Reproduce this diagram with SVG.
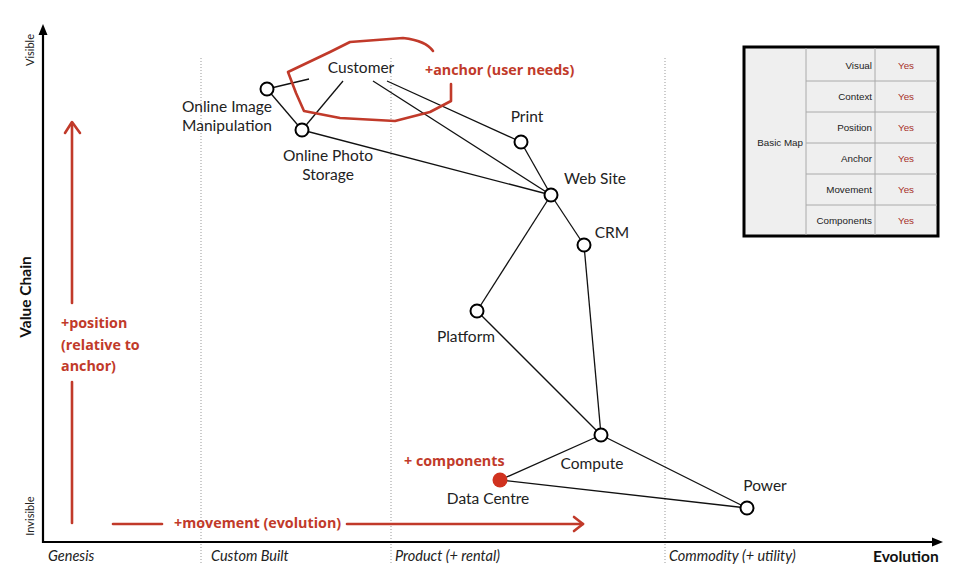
<svg xmlns="http://www.w3.org/2000/svg" width="968" height="578" viewBox="0 0 968 578">
<defs>
<style>
.bg{fill:#ffffff}
.axis{stroke:#000;stroke-width:2.2;fill:none}
.dot{stroke:#999;stroke-width:1;stroke-dasharray:1 2;fill:none}
.edge{stroke:#111;stroke-width:1.3;fill:none}
.node{fill:#fff;stroke:#000;stroke-width:2}
.lbl{font-family:Lato,"Noto Sans",sans-serif;font-size:15.5px;fill:#222;text-anchor:middle}
.ev{font-family:Lato,"Noto Sans",sans-serif;font-style:italic;font-size:14.5px;fill:#222}
.ax{font-family:Lato,"Noto Sans",sans-serif;font-size:11px;fill:#222;text-anchor:middle}
.axb{font-family:Lato,"Noto Sans",sans-serif;font-weight:bold;font-size:15.5px;fill:#111}
.red{font-family:"Open Sans",Lato,sans-serif;font-weight:bold;font-size:14.3px;fill:#c13a2a}
.rl{stroke:#c13a2a;stroke-width:2.6;fill:none;stroke-linecap:round;stroke-linejoin:round}
.tb{fill:#efefef;stroke:#000;stroke-width:3}
.tg{stroke:#aaa;stroke-width:1;fill:none}
.tt{font-family:"Liberation Sans",Arial,sans-serif;font-size:9.8px;fill:#222;text-anchor:end}
.ty{font-family:"Liberation Sans",Arial,sans-serif;font-size:9.8px;fill:#a8322a;text-anchor:middle}
</style>
</defs>
<rect class="bg" x="0" y="0" width="968" height="578"/>

<g id="grid">
<line class="dot" x1="201" y1="58" x2="201" y2="565"/>
<line class="dot" x1="391" y1="58" x2="391" y2="565"/>
<line class="dot" x1="665" y1="58" x2="665" y2="565"/>
</g>

<g id="axes">
<line class="axis" x1="43" y1="543" x2="43" y2="30"/>
<path d="M43,24 L38.5,35 L47.5,35 z" fill="#000"/>
<line class="axis" x1="42" y1="542" x2="935" y2="542"/>
<path d="M943,542 L932,537.5 L932,546.5 z" fill="#000"/>
<text class="ax" transform="translate(34,50) rotate(-90)">Visible</text>
<text class="ax" transform="translate(34,516) rotate(-90)">Invisible</text>
<text class="axb" text-anchor="middle" transform="translate(31,297) rotate(-90)">Value Chain</text>
<text class="ev" x="48" y="561">Genesis</text>
<text class="ev" x="211" y="561">Custom Built</text>
<text class="ev" x="395" y="561">Product (+ rental)</text>
<text class="ev" x="669" y="561">Commodity (+ utility)</text>
<text class="axb" x="873" y="562">Evolution</text>
</g>

<g id="connectors">
<line class="edge" x1="267" y1="89" x2="309" y2="79"/>
<line class="edge" x1="302" y1="130" x2="343" y2="81"/>
<line class="edge" x1="373" y1="81" x2="551" y2="195"/>
<line class="edge" x1="387" y1="81" x2="521" y2="142"/>
<line class="edge" x1="267" y1="89" x2="302" y2="130"/>
<line class="edge" x1="302" y1="130" x2="551" y2="195"/>
<line class="edge" x1="521" y1="142" x2="551" y2="195"/>
<line class="edge" x1="551" y1="195" x2="584" y2="245"/>
<line class="edge" x1="551" y1="195" x2="477" y2="311"/>
<line class="edge" x1="584" y1="245" x2="601" y2="435"/>
<line class="edge" x1="477" y1="311" x2="601" y2="435"/>
<line class="edge" x1="601" y1="435" x2="500" y2="480"/>
<line class="edge" x1="601" y1="435" x2="747" y2="508"/>
<line class="edge" x1="500" y1="480" x2="747" y2="508"/>
</g>

<g id="customer"><text class="lbl" x="361" y="73">Customer</text></g>
<g id="online-image-manipulation"><circle class="node" cx="267" cy="89" r="6.5"/><text class="lbl" x="227" y="112">Online Image</text><text class="lbl" x="227" y="131">Manipulation</text></g>
<g id="online-photo-storage"><circle class="node" cx="302" cy="130" r="6.5"/><text class="lbl" x="328" y="161">Online Photo</text><text class="lbl" x="328" y="180">Storage</text></g>
<g id="print"><circle class="node" cx="521" cy="142" r="6.5"/><text class="lbl" x="527" y="122">Print</text></g>
<g id="web-site"><circle class="node" cx="551" cy="195" r="6.5"/><text class="lbl" x="595" y="184">Web Site</text></g>
<g id="crm"><circle class="node" cx="584" cy="245" r="6.5"/><text class="lbl" x="612" y="238">CRM</text></g>
<g id="platform"><circle class="node" cx="477" cy="311" r="6.5"/><text class="lbl" x="466" y="342">Platform</text></g>
<g id="compute"><circle class="node" cx="601" cy="435" r="6.5"/><text class="lbl" x="592" y="469">Compute</text></g>
<g id="data-centre"><circle cx="500" cy="480" r="7.5" fill="#d0321f"/><text class="lbl" x="488" y="504">Data Centre</text></g>
<g id="power"><circle class="node" cx="747" cy="508" r="6.5"/><text class="lbl" x="765" y="491">Power</text></g>

<g id="annotations">
<path class="rl" d="M433,51 C428,44 420,40 403,38 L350,42 L330,52 L288,72 L296,93 L304,111 L340,118 L395,121 L430,112 L451,101 L451,84"/>
<text class="red" x="425" y="75">+anchor (user needs)</text>
<line class="rl" x1="72" y1="123" x2="72" y2="303"/>
<path class="rl" d="M65,133 L72,122 L80,133"/>
<line class="rl" x1="72" y1="382" x2="72" y2="523"/>
<text class="red" x="61" y="328">+position</text>
<text class="red" x="61" y="350">(relative to</text>
<text class="red" x="61" y="371">anchor)</text>
<line class="rl" x1="113" y1="524" x2="162" y2="524"/>
<text class="red" x="174" y="528">+movement (evolution)</text>
<line class="rl" x1="347" y1="524" x2="583" y2="524"/>
<path class="rl" d="M574,517 L583,524 L574,531"/>
<text class="red" x="404" y="466">+ components</text>
</g>

<g id="table">
<rect class="tb" x="744" y="47" width="194" height="189"/>
<line class="tg" x1="806" y1="48" x2="806" y2="235"/>
<line class="tg" x1="875" y1="48" x2="875" y2="235"/>
<line class="tg" x1="806" y1="81" x2="937" y2="81"/>
<line class="tg" x1="806" y1="112" x2="937" y2="112"/>
<line class="tg" x1="806" y1="143" x2="937" y2="143"/>
<line class="tg" x1="806" y1="174" x2="937" y2="174"/>
<line class="tg" x1="806" y1="205" x2="937" y2="205"/>
<text class="tt" x="803" y="146">Basic Map</text>
<text class="tt" x="872" y="69">Visual</text>
<text class="tt" x="872" y="100">Context</text>
<text class="tt" x="872" y="131">Position</text>
<text class="tt" x="872" y="162">Anchor</text>
<text class="tt" x="872" y="193">Movement</text>
<text class="tt" x="872" y="224">Components</text>
<text class="ty" x="906" y="69">Yes</text>
<text class="ty" x="906" y="100">Yes</text>
<text class="ty" x="906" y="131">Yes</text>
<text class="ty" x="906" y="162">Yes</text>
<text class="ty" x="906" y="193">Yes</text>
<text class="ty" x="906" y="224">Yes</text>
</g>
</svg>
